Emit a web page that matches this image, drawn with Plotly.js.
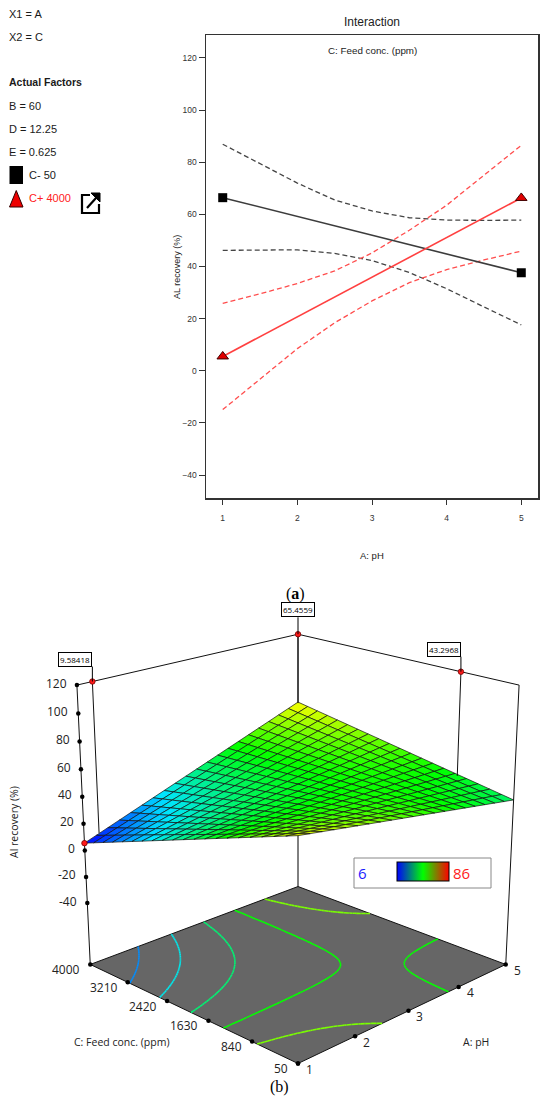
<!DOCTYPE html>
<html><head><meta charset="utf-8">
<script src="https://cdn.plot.ly/plotly-3.0.1.min.js"></script>
<style>html,body{margin:0;padding:0;background:#fff}#chart{width:550px;height:1102px}</style>
</head><body><div id="chart"></div>
<script>
// ---------- (a) interaction plot data ----------
const pHEnds     = [1, 5];
const cMinusFit  = [66.4, 37.6];    // C- 50 ppm
const cPlusFit   = [5.5, 66.3];     // C+ 4000 ppm
const pHBand     = [1, 1.5, 2, 2.5, 3, 3.5, 4, 4.5, 5];
const cMinusUpper = [86.9, 79.5, 72.0, 65.5, 61.3, 58.7, 57.8, 57.7, 57.8];
const cMinusLower = [46.2, 46.3, 46.4, 45.0, 42.3, 37.7, 31.5, 24.5, 17.6];
const cPlusUpper  = [25.9, 29.5, 33.5, 38.3, 45.2, 53.9, 63.5, 75.0, 86.5];
const cPlusLower  = [-14.9, -3.3, 8.5, 18.4, 26.8, 33.8, 38.8, 42.5, 45.9];
const pHTicks  = [1, 2, 3, 4, 5];
const yTicks2d = [-40, -20, 0, 20, 40, 60, 80, 100, 120];

// ---------- (b) response surface data ----------
const cLevels  = [50, 4000];
const cTicks   = [50, 840, 1630, 2420, 3210, 4000];
const zTicks   = [-40, -20, 0, 20, 40, 60, 80, 100, 120];
const designPH = [1.25, 5, 5];
const designC  = [4000, 4000, 1000];
const designActual = [9.58418, 65.4559, 43.2968];
const designLabels = ['9.58418', '65.4559', '43.2968'];
const contourLevels = [18.3, 27.6, 37.0, 46.3, 55.6];
const colorMin = 6, colorMax = 86;
const xR = [1, 5], yR = [50, 4000], zR = [-88, 120];

const surfScale = [[0,[0,0,255]],[0.25,[0,229,255]],[0.5,[0,255,0]],[0.75,[255,255,0]],[1,[255,0,0]]];
const keyScale  = [[0,'#0000ff'],[0.5,'#00ff00'],[1,'#ff0000']];

// Response model: linear in pH at each C level (the two interaction lines), linear between C levels.
const lineAt = (ends, p) => ends[0] + (ends[1]-ends[0])*(p-pHEnds[0])/(pHEnds[1]-pHEnds[0]);
const model = (p, c) => { const t = (c-cLevels[0])/(cLevels[1]-cLevels[0]);
  return lineAt(cMinusFit,p)*(1-t) + lineAt(cPlusFit,p)*t; };

// ---------- view (camera) for the 3-D panel, drawn on a pixel-scaled 2-D axis pair ----------
const CAM = {elev: 20*Math.PI/180, dist: 5.5, K: 1633.5, cx: 298, cy: 829.1, side: 1.02, height: 1.0};
function proj(p, c, z) {
  const u = ((p - xR[0])/(xR[1]-xR[0]) - 0.5)*CAM.side;
  const v = ((c - yR[0])/(yR[1]-yR[0]) - 0.5)*CAM.side;
  const w = ((z - zR[0])/(zR[1]-zR[0]) - 0.5)*CAM.height;
  const s = Math.sin(CAM.elev), co = Math.cos(CAM.elev);
  const q = (u+v)/Math.SQRT2, depth = CAM.dist + q*co - s*w;
  return [CAM.cx + CAM.K*((u-v)/Math.SQRT2)/depth, CAM.cy - CAM.K*(q*s + co*w)/depth, depth];
}
function colorAt(val) {
  const t = Math.max(0, Math.min(1, (val-colorMin)/(colorMax-colorMin)));
  for (let i = 1; i < surfScale.length; i++) if (t <= surfScale[i][0]) {
    const a = surfScale[i-1], b = surfScale[i], f = (t-a[0])/(b[0]-a[0]);
    return 'rgb(' + a[1].map((x,k)=>Math.round(x+(b[1][k]-x)*f)).join(',') + ')';
  }
  return 'rgb(255,0,0)';
}

const W = 550, H = 1102;
const px = x => x / W, py = y => 1 - y / H;
const SANS = '"Liberation Sans", Arial, sans-serif';
const SANS3 = '"Open Sans", "Noto Sans", sans-serif';

const dashB = '#444444', dashR = '#ff4d4d';
const traces = [
  {x: pHBand, y: cMinusUpper, mode:'lines', line:{color:dashB, width:1.3, dash:'5px,3px'}, hoverinfo:'skip'},
  {x: pHBand, y: cMinusLower, mode:'lines', line:{color:dashB, width:1.3, dash:'5px,3px'}, hoverinfo:'skip'},
  {x: pHBand, y: cPlusUpper, mode:'lines', line:{color:dashR, width:1.3, dash:'5px,3px'}, hoverinfo:'skip'},
  {x: pHBand, y: cPlusLower, mode:'lines', line:{color:dashR, width:1.3, dash:'5px,3px'}, hoverinfo:'skip'},
  {x: pHEnds, y: cMinusFit, mode:'lines+markers', line:{color:'#3c3c3c', width:1.6},
   marker:{symbol:'square', size:9, color:'#000'}, hoverinfo:'skip'},
  {x: pHEnds, y: cPlusFit, mode:'lines+markers', line:{color:'#ff4040', width:1.6},
   marker:{symbol:'triangle-up', size:10, color:'#e00000', line:{color:'#400000', width:1}}, hoverinfo:'skip'}
];
const T3 = (o) => Object.assign({type:'scatter', xaxis:'x2', yaxis:'y2', hoverinfo:'skip', cliponaxis:false}, o);
const P3 = (pts) => { const r = {x:[], y:[]}; pts.forEach(q => { if (!q) { r.x.push(null); r.y.push(null); } else { const s = proj(q[0],q[1],q[2]); r.x.push(s[0]); r.y.push(s[1]); } }); return r; };

// floor
const floorPts = [[xR[0],yR[1],zR[0]],[xR[0],yR[0],zR[0]],[xR[1],yR[0],zR[0]],[xR[1],yR[1],zR[0]],[xR[0],yR[1],zR[0]]];
traces.push(T3(Object.assign(P3(floorPts), {mode:'lines', fill:'toself', fillcolor:'#666666', line:{color:'#111', width:1}})));

// floor contours (marching squares on the model, projected to the floor)
const NCg = 80;
const gv = [];
for (let j = 0; j <= NCg; j++) { gv.push([]); for (let i = 0; i <= NCg; i++)
  gv[j].push(model(xR[0]+(xR[1]-xR[0])*i/NCg, yR[0]+(yR[1]-yR[0])*j/NCg)); }
const gp = i => xR[0]+(xR[1]-xR[0])*i/NCg, gc = j => yR[0]+(yR[1]-yR[0])*j/NCg;
contourLevels.forEach(L => {
  const segs = [];
  for (let j = 0; j < NCg; j++) for (let i = 0; i < NCg; i++) {
    const a = gv[j][i], b = gv[j][i+1], c = gv[j+1][i+1], d = gv[j+1][i];
    const cr = [];
    const edge = (v1, v2, p1, p2) => { if ((v1-L)*(v2-L) < 0) { const f = (L-v1)/(v2-v1); cr.push([p1[0]+(p2[0]-p1[0])*f, p1[1]+(p2[1]-p1[1])*f]); } else cr.push(null); };
    edge(a, b, [gp(i),gc(j)], [gp(i+1),gc(j)]);
    edge(b, c, [gp(i+1),gc(j)], [gp(i+1),gc(j+1)]);
    edge(c, d, [gp(i+1),gc(j+1)], [gp(i),gc(j+1)]);
    edge(d, a, [gp(i),gc(j+1)], [gp(i),gc(j)]);
    const hits = cr.filter(Boolean);
    if (hits.length === 2) segs.push(hits);
    else if (hits.length === 4) {
      const ctr = (a+b+c+d)/4;
      if ((ctr > L) === (a > L)) { segs.push([cr[0],cr[1]]); segs.push([cr[2],cr[3]]); }
      else { segs.push([cr[3],cr[0]]); segs.push([cr[1],cr[2]]); }
    }
  }
  const pts = [];
  segs.forEach(sg => { pts.push([sg[0][0], sg[0][1], zR[0]], [sg[1][0], sg[1][1], zR[0]], null); });
  traces.push(T3(Object.assign(P3(pts), {mode:'lines', line:{color:colorAt(L), width:1.6}})));
});

// back vertical edge (partly hidden by the surface)
traces.push(T3(Object.assign(P3([[xR[1],yR[1],zR[0]],[xR[1],yR[1],zR[1]]]), {mode:'lines', line:{color:'#000', width:1}})));

// surface mesh cells, painted far to near
const N = 20, cells = [];
for (let j = 0; j < N; j++) for (let i = 0; i < N; i++) {
  const p0 = xR[0]+(xR[1]-xR[0])*i/N, p1 = xR[0]+(xR[1]-xR[0])*(i+1)/N;
  const c0 = yR[0]+(yR[1]-yR[0])*j/N, c1 = yR[0]+(yR[1]-yR[0])*(j+1)/N;
  const corners = [[p0,c0],[p1,c0],[p1,c1],[p0,c1],[p0,c0]].map(q => [q[0], q[1], model(q[0], q[1])]);
  const zc = model((p0+p1)/2, (c0+c1)/2);
  cells.push({pts: corners, z: zc, depth: proj((p0+p1)/2, (c0+c1)/2, zc)[2]});
}
cells.sort((a, b) => b.depth - a.depth);
cells.forEach(cl => traces.push(T3(Object.assign(P3(cl.pts), {mode:'lines', fill:'toself', fillcolor:colorAt(cl.z),
  line:{color:'#111', width:0.7}}))));

// box frame (top edges, left and right verticals)
traces.push(T3(Object.assign(P3([[xR[0],yR[1],zR[1]],[xR[1],yR[1],zR[1]],[xR[1],yR[0],zR[1]],null,
  [xR[0],yR[1],zR[0]],[xR[0],yR[1],zR[1]],null,[xR[1],yR[0],zR[0]],[xR[1],yR[0],zR[1]]]), {mode:'lines', line:{color:'#111', width:1}})));
// design points: drop lines and top markers
const drops = [];
designPH.forEach((p,i) => { drops.push([p, designC[i], zR[1]], [p, designC[i], designActual[i]], null); });
traces.push(T3(Object.assign(P3(drops), {mode:'lines', line:{color:'#111', width:1}})));
const dots = designPH.map((p,i) => [p, designC[i], zR[1]]).concat([[pHEnds[0], cLevels[1], cPlusFit[0]]]);
traces.push(T3(Object.assign(P3(dots), {mode:'markers', marker:{size:5.5, color:'#ff1a1a', line:{color:'#700', width:0.8}}})));
// axis tick dots
const zTickPts = zTicks.map(z => [xR[0], yR[1], z]);
const pTickPts = pHTicks.map(p => [p, yR[0], zR[0]]);
const cTickPts = cTicks.map(c => [xR[0], c, zR[0]]);
traces.push(T3(Object.assign(P3(zTickPts.concat(pTickPts, cTickPts)), {mode:'markers', marker:{size:4.5, color:'#000'}})));
// colour key carrier
traces.push(T3({x:[null], y:[null], mode:'markers',
  marker:{color:[colorMin], cmin:colorMin, cmax:colorMax, showscale:true, colorscale:keyScale,
    colorbar:{orientation:'h', x:px(397), xanchor:'left', y:py(872), yanchor:'middle',
      len:52, lenmode:'pixels', thickness:19, thicknessmode:'pixels',
      outlinewidth:1, outlinecolor:'#000', borderwidth:0, showticklabels:false, ticks:'', xpad:0, ypad:0}}}));

const ann = [];
const A = (text, x, y, o={}) => ann.push(Object.assign({text, x:px(x), y:py(y), xref:'paper', yref:'paper',
  xanchor:'center', yanchor:'middle', showarrow:false, font:{family:SANS, size:11, color:'#1a1a1a'}}, o));
const L = (text, y, o={}) => A(text, 7, y, Object.assign({xanchor:'left'}, o));
L('X1 = A', 14); L('X2 = C', 37); L('<b>Actual Factors</b>', 82, {font:{family:SANS, size:10.5, color:'#1a1a1a'}});
L('B = 60', 106); L('D = 12.25', 129); L('E = 0.625', 152);
A('C- 50', 27, 175, {xanchor:'left'});
A('C+ 4000', 27, 198, {xanchor:'left', font:{family:SANS, size:11, color:'#ff2020'}});
A('Interaction', 372, 22, {font:{family:SANS, size:12, color:'#222'}});
A('C: Feed conc. (ppm)', 372, 51, {font:{family:SANS, size:9.8, color:'#222'}});
A('AL recovery (%)', 177, 267, {textangle:-90, font:{family:SANS, size:9, color:'#222'}});
A('A: pH', 372, 555, {font:{family:SANS, size:9.5, color:'#222'}});
A('(<b>a</b>)', 295, 594, {font:{family:'"Liberation Serif", serif', size:16, color:'#000'}});
A('(b)', 280, 1087, {font:{family:'"Liberation Serif", serif', size:16, color:'#000'}});
A('C: Feed conc. (ppm)', 122, 1042, {font:{family:SANS3, size:10.5, color:'#222'}});
A('A: pH', 476, 1042, {font:{family:SANS3, size:10.5, color:'#222'}});
A('Al recovery (%)', 14, 822, {textangle:-90, font:{family:SANS3, size:10.5, color:'#222'}});
A(String(colorMin), 362, 873, {font:{family:SANS3, size:15, color:'#1a1aff'}});
A(String(colorMax), 461, 873, {font:{family:SANS3, size:15, color:'#ff2020'}});
// 3-D tick labels (positions from the projection)
const A3 = (text, pt, o) => { const s = proj(pt[0], pt[1], pt[2]); ann.push(Object.assign({text, x:s[0], y:s[1], xref:'x2', yref:'y2',
  showarrow:false, yanchor:'middle', font:{family:SANS3, size:12, color:'#222'}}, o)); };
zTicks.forEach((z,i) => A3(String(z), zTickPts[i], {xanchor:'right', xshift:-8, yshift:2}));
pHTicks.forEach((p,i) => A3(String(p), pTickPts[i], {xanchor:'left', xshift:6, yshift:-6}));
cTicks.forEach((c,i) => A3(String(c), cTickPts[i], {xanchor:'right', xshift:-8, yshift:-5}));
designPH.forEach((p,i) => { const s = proj(p, designC[i], zR[1]); ann.push({text:designLabels[i], x:s[0], y:s[1], xref:'x2', yref:'y2',
  showarrow:true, arrowhead:0, arrowwidth:1, arrowcolor:'#000', ax:0, ay:(i===1?-17:-15), xanchor:(i===1?'center':'right'), yanchor:'bottom',
  bordercolor:'#000', borderwidth:1, borderpad:1, bgcolor:'#fff', font:{family:SANS3, size:8, color:'#000'}}); });

const PP = (pts) => 'M ' + pts.map(p => px(p[0]) + ' ' + py(p[1])).join(' L ');
const shapes = [
  {type:'rect', xref:'paper', yref:'paper', x0:px(9.5), x1:px(23), y0:py(184), y1:py(166), fillcolor:'#000', line:{width:0}},
  {type:'path', xref:'paper', yref:'paper', path:PP([[9.5,207],[23,207],[16.25,190.5]])+' Z', fillcolor:'#ee0000', line:{color:'#300', width:1}},
  {type:'path', xref:'paper', yref:'paper', path:PP([[90,195],[82,195],[82,213],[99,213],[99,204]]), line:{color:'#000', width:2.2}},
  {type:'path', xref:'paper', yref:'paper', path:PP([[87,208],[96,198]]), line:{color:'#000', width:2.2}},
  {type:'path', xref:'paper', yref:'paper', path:PP([[91,193],[100,193],[100,202]])+' Z', fillcolor:'#000', line:{color:'#000', width:1}},
  {type:'rect', xref:'paper', yref:'paper', x0:px(354), x1:px(491), y0:py(888), y1:py(858), line:{color:'#888', width:1}}
];

const layout = {
  width:W, height:H, margin:{l:0, r:0, t:0, b:0}, paper_bgcolor:'#fff', plot_bgcolor:'rgba(0,0,0,0)', showlegend:false,
  xaxis:{domain:[px(206), px(538)], range:[0.776, 5.224], tickvals:pHTicks, ticks:'outside', ticklen:5,
    tickcolor:'#333', showgrid:false, zeroline:false, showline:true, mirror:true, linecolor:'#333', linewidth:1.5,
    ticklabelstandoff:6, tickfont:{family:SANS, size:8.5, color:'#333'}},
  yaxis:{domain:[py(498), py(35)], range:[-48.8, 128.8], tickvals:yTicks2d, ticks:'outside', ticklen:6,
    tickcolor:'#333', showgrid:false, zeroline:false, showline:true, mirror:true, linecolor:'#333', linewidth:1.5,
    tickfont:{family:SANS, size:8.5, color:'#333'}},
  xaxis2:{domain:[0, 1], range:[0, W], visible:false, anchor:'y2'},
  yaxis2:{domain:[0, py(612)], range:[H, 612], visible:false, anchor:'x2'},
  annotations: ann, shapes: shapes
};
Plotly.newPlot('chart', traces, layout, {displayModeBar:false, staticPlot:true});
</script></body></html>
